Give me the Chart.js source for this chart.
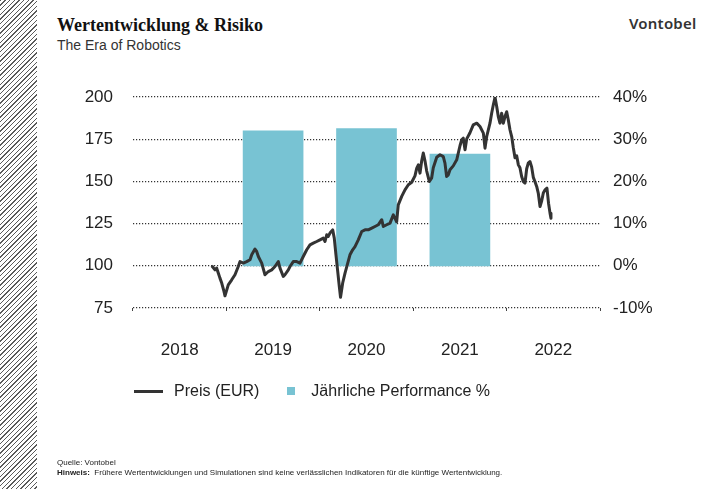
<!DOCTYPE html>
<html>
<head>
<meta charset="utf-8">
<script src="https://cdn.jsdelivr.net/npm/chart.js@4.4.1/dist/chart.umd.min.js"></script>
<style>
    body { margin: 0; background: #fff; }
    #page { position: relative; width: 715px; height: 489px; overflow: hidden; font-family: "Liberation Sans", Arial, sans-serif; color: #222; }
    #hatch { position: absolute; left: 0; top: 0; width: 37px; height: 489px;
        background: repeating-linear-gradient(135deg, #5a5a5a 0 1px, #fff 1px 3.3px); }
    #title { position: absolute; left: 57px; top: 15px; font: bold 18px "Liberation Serif", "DejaVu Serif", serif; color: #111; }
    #subtitle { position: absolute; left: 57px; top: 37px; font-size: 14px; color: #333; }
    #logo { position: absolute; left: 629px; top: 13px; font: 600 15px "Noto Sans", "Inter", sans-serif; color: #333; letter-spacing: 0.2px; }
    #chart { position: absolute; left: 0; top: 0; }
    #legend { position: absolute; left: 134px; top: 382px; font-size: 16px; color: #222; display: flex; align-items: center; }
    .swatch-line { width: 29px; height: 3px; background: #333; margin-right: 11px; }
    .swatch-box { width: 8px; height: 8px; margin-left: 28px; margin-right: 16px; }
    #source { position: absolute; left: 57px; top: 458px; font-size: 8px; line-height: 9.5px; color: #222; white-space: nowrap; }
</style>
</head>
<body>
<div id="page">
    <div id="hatch"></div>
    <div id="title">Wertentwicklung &amp; Risiko</div>
    <div id="subtitle">The Era of Robotics</div>
    <div id="logo">Vontobel</div>
    <canvas id="chart" width="715" height="489"></canvas>
    <div id="legend"></div>
    <div id="source">Quelle: Vontobel<br><b>Hinweis:</b>&nbsp; Frühere Wertentwicklungen und Simulationen sind keine verlässlichen Indikatoren für die künftige Wertentwicklung.</div>
</div>
<script>
const $ = document.querySelector.bind(document)

// year categories and yearly performance (%)
const years = ["2018", "2019", "2020", "2021", "2022"]
const performance = [null, 32.0, 32.5, 26.5, null]

// price series (EUR), x as decimal year
const priceDates = [
    2018.843, 2018.878, 2018.896, 2018.913, 2018.931, 2018.950, 2018.974, 2018.985,
    2019.020, 2019.057, 2019.092, 2019.127, 2019.146, 2019.181, 2019.217, 2019.253,
    2019.271, 2019.306, 2019.324, 2019.342, 2019.378, 2019.413, 2019.449, 2019.485,
    2019.520, 2019.556, 2019.574, 2019.609, 2019.627, 2019.663, 2019.681, 2019.716,
    2019.753, 2019.788, 2019.823, 2019.860, 2019.895, 2019.930, 2019.967, 2020.002,
    2020.037, 2020.056, 2020.074, 2020.091, 2020.109, 2020.138, 2020.155, 2020.173,
    2020.192, 2020.209, 2020.222, 2020.245, 2020.270, 2020.294, 2020.323, 2020.352,
    2020.377, 2020.412, 2020.449, 2020.484, 2020.519, 2020.556, 2020.591, 2020.626,
    2020.663, 2020.680, 2020.716, 2020.752, 2020.787, 2020.823, 2020.840, 2020.877,
    2020.912, 2020.948, 2020.984, 2021.019, 2021.038, 2021.055, 2021.073, 2021.091,
    2021.108, 2021.126, 2021.144, 2021.173, 2021.198, 2021.215, 2021.252, 2021.287,
    2021.322, 2021.340, 2021.358, 2021.376, 2021.394, 2021.429, 2021.466, 2021.501,
    2021.519, 2021.536, 2021.555, 2021.573, 2021.608, 2021.643, 2021.680, 2021.715,
    2021.751, 2021.769, 2021.787, 2021.822, 2021.840, 2021.858, 2021.876, 2021.894,
    2021.911, 2021.929, 2021.947, 2021.965, 2021.983, 2022.001, 2022.018, 2022.036,
    2022.055, 2022.072, 2022.090, 2022.108, 2022.126, 2022.143, 2022.162, 2022.179,
    2022.197, 2022.215, 2022.232, 2022.250, 2022.268, 2022.286, 2022.304, 2022.322,
    2022.339, 2022.358, 2022.376, 2022.393, 2022.411, 2022.432, 2022.449, 2022.465,
    2022.475
]
const prices = [
    100.0, 97.6, 98.6, 95.7, 92.7, 89.8, 84.8, 82.2,
    88.7, 91.7, 94.7, 99.6, 102.5, 101.6, 102.5, 103.6,
    106.5, 109.9, 108.5, 105.5, 101.6, 94.7, 96.6, 97.6,
    99.6, 102.5, 98.6, 93.7, 94.7, 97.6, 99.6, 102.5,
    102.5, 101.6, 105.5, 109.5, 112.4, 113.4, 114.4, 115.4,
    116.4, 114.4, 118.4, 117.4, 119.4, 121.3, 116.4, 106.5,
    96.6, 87.7, 81.3, 89.8, 95.7, 100.5, 106.5, 109.5,
    111.4, 115.4, 120.3, 121.3, 121.3, 122.3, 123.3, 124.3,
    127.3, 123.3, 124.3, 125.3, 130.2, 126.1, 136.1, 141.1,
    145.0, 148.0, 149.5, 153.3, 157.9, 159.8, 154.9, 162.2,
    166.8, 162.2, 156.3, 149.9, 152.1, 158.1, 164.3, 165.8,
    164.7, 160.8, 152.9, 153.9, 156.9, 159.2, 162.8, 171.1,
    174.6, 175.6, 168.7, 175.2, 178.8, 183.5, 184.5, 182.5,
    178.6, 169.7, 176.6, 184.5, 190.4, 195.4, 199.8, 194.4,
    188.4, 184.5, 190.4, 184.5, 188.4, 191.3, 186.5, 180.6,
    176.4, 169.9, 164.0, 165.2, 159.8, 158.1, 152.7, 149.9,
    149.0, 157.5, 160.8, 161.8, 158.6, 152.4, 149.8, 147.0,
    143.1, 135.1, 138.5, 143.1, 145.0, 146.0, 137.1, 131.2,
    128.2
]

const priceTicks = [75, 100, 125, 150, 175, 200]
const perfTicks = [-10, 0, 10, 20, 30, 40]

const seriesNames = ["Preis (EUR)", "Jährliche Performance %"]
const lineColor = "#333333"
const barColor = "#78c3d3"

const tickFont = { family: "Liberation Sans", size: 17 }

function buildLegend() {
    const legend = $("#legend")
    legend.innerHTML = `
        <span class="swatch-line"></span><span>${seriesNames[0]}</span>
        <span class="swatch-box" style="background:${barColor}"></span><span>${seriesNames[1]}</span>`
}
buildLegend()

new Chart($("#chart"), {
    type: "bar",
    data: {
        labels: years,
        datasets: [
            {
                type: "line",
                label: seriesNames[0],
                data: priceDates.map((d, i) => ({ x: d, y: prices[i] })),
                xAxisID: "xl",
                yAxisID: "y",
                borderColor: lineColor,
                borderWidth: 3,
                pointRadius: 0,
                tension: 0,
                borderJoinStyle: "round",
                order: 0
            },
            {
                label: seriesNames[1],
                data: performance,
                xAxisID: "x",
                yAxisID: "y2",
                backgroundColor: barColor,
                barThickness: 60,
                grouped: false,
                order: 1
            }
        ]
    },
    options: {
        responsive: false,
        animation: false,
        layout: { padding: { top: 97, left: 0, right: 0, bottom: 0 } },
        scales: {
            x: {
                type: "category",
                offset: true,
                grid: {
                    offset: true,
                    drawOnChartArea: false,
                    drawTicks: true,
                    tickLength: 3,
                    color: "#444",
                    lineWidth: 1
                },
                border: { display: false },
                ticks: { color: "#222", font: tickFont, padding: 29 },
                afterFit: (scale) => { scale.height = 181 }
            },
            xl: {
                type: "linear",
                min: 2018,
                max: 2023,
                offset: false,
                display: false
            },
            y: {
                position: "left",
                min: 75,
                max: 200,
                afterBuildTicks: (scale) => { scale.ticks = priceTicks.map(v => ({ value: v })) },
                grid: { color: "#333", lineWidth: 1.2, drawTicks: false },
                border: { display: false, dash: [1.2, 1.8] },
                ticks: { color: "#222", font: tickFont, padding: 20 },
                afterFit: (scale) => { scale.width = 133 }
            },
            y2: {
                position: "right",
                min: -10,
                max: 40,
                afterBuildTicks: (scale) => { scale.ticks = perfTicks.map(v => ({ value: v })) },
                grid: { display: false, drawTicks: false },
                border: { display: false },
                ticks: { color: "#222", font: tickFont, padding: 13, callback: (v) => `${v}%` },
                afterFit: (scale) => { scale.width = 115 }
            }
        },
        plugins: {
            legend: { display: false },
            tooltip: { enabled: false }
        }
    }
});
</script>
</body>
</html>
